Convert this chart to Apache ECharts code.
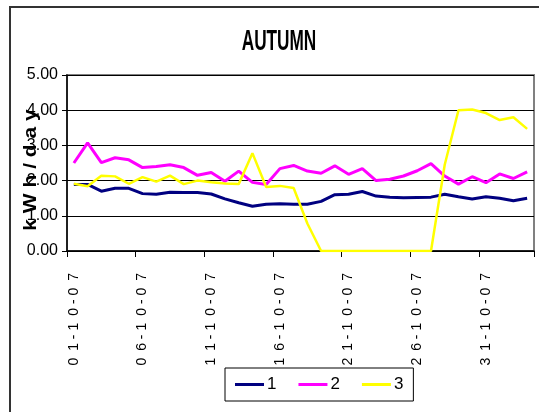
<!DOCTYPE html>
<html>
<head>
<meta charset="utf-8">
<script src="https://cdn.jsdelivr.net/npm/echarts@6/dist/echarts.min.js"></script>
<style>
html,body{margin:0;padding:0;background:#fff;}
#c{width:539px;height:412px;}
</style>
</head>
<body>
<div id="c"></div>
<script>
var categories = ['01-10-07','02-10-07','03-10-07','04-10-07','05-10-07','06-10-07','07-10-07','08-10-07','09-10-07','10-10-07',
  '11-10-07','12-10-07','13-10-07','14-10-07','15-10-07','16-10-07','17-10-07','18-10-07','19-10-07','20-10-07',
  '21-10-07','22-10-07','23-10-07','24-10-07','25-10-07','26-10-07','27-10-07','28-10-07','29-10-07','30-10-07',
  '31-10-07','01-11-07','02-11-07','03-11-07'];
var series1 = [1.89,1.89,1.70,1.78,1.78,1.63,1.61,1.67,1.66,1.66,1.62,1.48,1.37,1.27,1.33,1.34,1.33,1.33,1.41,1.60,1.61,1.69,1.56,1.53,1.51,1.52,1.53,1.61,1.54,1.48,1.54,1.50,1.43,1.50];
var series2 = [2.50,3.07,2.51,2.65,2.59,2.37,2.40,2.45,2.37,2.15,2.23,1.98,2.27,1.95,1.89,2.34,2.43,2.27,2.21,2.42,2.18,2.34,2.00,2.04,2.13,2.28,2.48,2.13,1.90,2.11,1.94,2.19,2.06,2.25];
var series3 = [1.91,1.84,2.14,2.12,1.91,2.10,1.97,2.14,1.90,2.00,1.95,1.92,1.90,2.78,1.82,1.85,1.79,0.78,0,0,0,0,0,0,0,0,0,2.45,4.00,4.02,3.92,3.72,3.80,3.47];
var seriesNames = ['1','2','3'];
var yTicks = {min:0, max:5, interval:1};

var narrow = '"Liberation Sans Narrow","Arial Narrow",Arial,sans-serif';
function spaced(v){
  var ch = v.split(''), out = ch[0];
  for (var i = 1; i < ch.length; i++) out += ((i === 1 || i === 4 || i === 7) ? '\u2002' : ' ') + ch[i];
  return out;
}
var chart = echarts.init(document.getElementById('c'), null, {renderer:'canvas'});
chart.setOption({
  backgroundColor:'#fff',
  animation:false,
  graphic:[
    {type:'rect', z:-10, shape:{x:10,y:7,width:560,height:440}, style:{fill:'none', stroke:'#333', lineWidth:2}},
    {type:'text', z:-5, x:279, y:42, scaleX:0.82, scaleY:1.4, style:{text:'AUTUMN', font:'bold 21px '+narrow, fill:'#000', align:'center', verticalAlign:'middle'}},
    {type:'text', z:-5, x:31, y:170, rotation:Math.PI/2, scaleY:0.9, style:{text:'k W h / d a y', font:'bold 21px '+narrow, fill:'#000', align:'center', verticalAlign:'middle'}}
  ],
  grid:{left:67, right:5, top:75, bottom:161, show:true, borderColor:'#808080', borderWidth:2, containLabel:false},
  legend:{
    left:225, top:368, padding:[8,10,8,10], borderColor:'#000', borderWidth:1,
    itemWidth:29, itemHeight:3, itemGap:22, icon:'rect',
    textStyle:{fontFamily:narrow, fontSize:17, color:'#000', padding:[0,0,0,-2]},
    data:seriesNames
  },
  xAxis:{
    type:'category', data:categories, boundaryGap:true,
    axisLine:{lineStyle:{color:'#000', width:1.5}},
    axisTick:{show:true, interval:4, length:6, lineStyle:{color:'#000'}},
    axisLabel:{interval:4, rotate:90, margin:22, fontFamily:'"Liberation Sans",Arial,sans-serif', fontSize:14, color:'#000',
      formatter:spaced},
    splitLine:{show:false}
  },
  yAxis:{
    type:'value', min:yTicks.min, max:yTicks.max, interval:yTicks.interval,
    axisLine:{show:true, lineStyle:{color:'#000', width:1.5}},
    axisTick:{show:true, length:5, lineStyle:{color:'#000'}},
    axisLabel:{margin:9, fontFamily:narrow, fontSize:16, color:'#000', formatter:function(v){return v.toFixed(2);}},
    splitLine:{show:true, lineStyle:{color:'#000', width:1}}
  },
  series:[
    {name:seriesNames[0], type:'line', data:series1, symbol:'none', lineStyle:{color:'#000080', width:3}, itemStyle:{color:'#000080'}},
    {name:seriesNames[1], type:'line', data:series2, symbol:'none', lineStyle:{color:'#FF00FF', width:3}, itemStyle:{color:'#FF00FF'}},
    {name:seriesNames[2], type:'line', data:series3, symbol:'none', lineStyle:{color:'#FFFF00', width:2.5}, itemStyle:{color:'#FFFF00'}}
  ]
});
</script>
</body>
</html>
